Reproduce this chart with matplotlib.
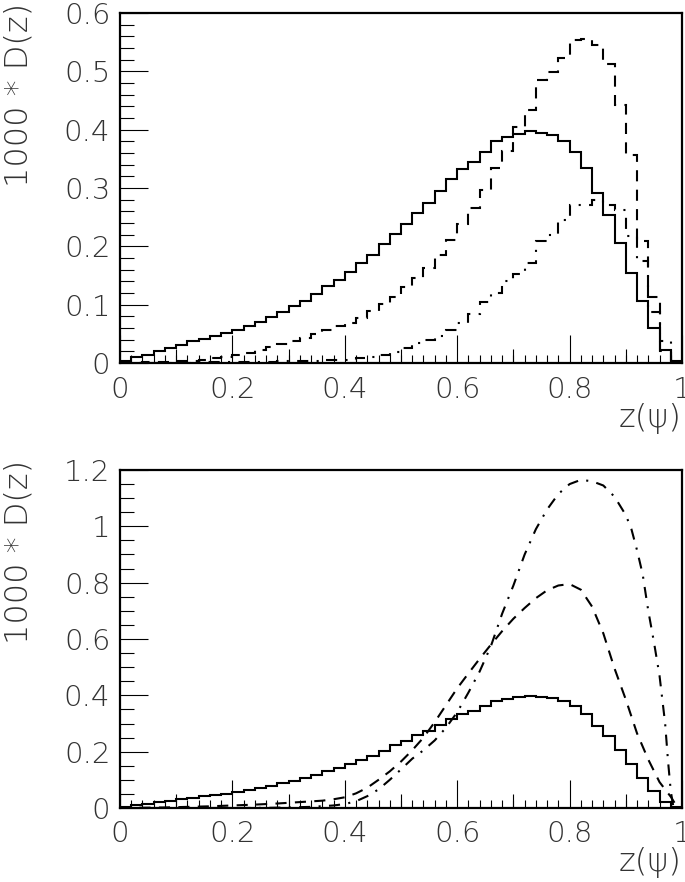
import numpy as np
import matplotlib
matplotlib.use("Agg")
import matplotlib.pyplot as plt
from matplotlib.ticker import MultipleLocator, FixedLocator, FuncFormatter, NullFormatter

# histogram contents, 50 bins on [0, 1]
SOLID_HIST = [0.004, 0.010, 0.014, 0.020, 0.026, 0.031, 0.037, 0.042, 0.047, 0.051,
              0.057, 0.064, 0.071, 0.079, 0.088, 0.097, 0.107, 0.118, 0.132, 0.143,
              0.156, 0.171, 0.186, 0.204, 0.222, 0.238, 0.258, 0.275, 0.295, 0.315,
              0.333, 0.345, 0.362, 0.380, 0.388, 0.393, 0.398, 0.395, 0.390, 0.381,
              0.361, 0.334, 0.292, 0.254, 0.205, 0.155, 0.106, 0.060, 0.022, 0.003]
DASHED_HIST = [0.0, 0.0, 0.001, 0.001, 0.002, 0.003, 0.004, 0.006, 0.008, 0.010,
               0.013, 0.017, 0.022, 0.027, 0.032, 0.038, 0.043, 0.049, 0.056, 0.063,
               0.069, 0.077, 0.089, 0.101, 0.113, 0.130, 0.146, 0.163, 0.186, 0.211,
               0.238, 0.266, 0.297, 0.335, 0.364, 0.405, 0.434, 0.485, 0.499, 0.522,
               0.554, 0.555, 0.545, 0.512, 0.443, 0.356, 0.209, 0.113, 0.020, 0.002]
DASHDOT_HIST = [0.0, 0.0, 0.0, 0.0, 0.0, 0.0, 0.0005, 0.001, 0.001, 0.001,
                0.001, 0.002, 0.002, 0.002, 0.003, 0.003, 0.004, 0.004, 0.005, 0.005,
                0.006, 0.008, 0.011, 0.014, 0.019, 0.026, 0.034, 0.040, 0.046, 0.056,
                0.068, 0.084, 0.105, 0.120, 0.140, 0.152, 0.172, 0.210, 0.220, 0.245,
                0.270, 0.270, 0.280, 0.270, 0.262, 0.218, 0.175, 0.088, 0.038, 0.004]

# smooth curves of the lower panel
DASHED_Z = [0.0, 0.04, 0.08, 0.12, 0.16, 0.20, 0.24, 0.28, 0.32, 0.36, 0.38, 0.40,
            0.42, 0.44, 0.46, 0.48, 0.50, 0.52, 0.54, 0.56, 0.58, 0.60, 0.62, 0.64,
            0.66, 0.68, 0.70, 0.72, 0.74, 0.76, 0.78, 0.80, 0.82, 0.84, 0.86, 0.88,
            0.90, 0.92, 0.94, 0.96, 0.98, 0.99, 1.0]
DASHED_CURVE = [0.0, 0.001, 0.002, 0.004, 0.006, 0.009, 0.012, 0.016, 0.021, 0.026, 0.031, 0.038,
                0.052, 0.072, 0.100, 0.130, 0.165, 0.205, 0.250, 0.305, 0.365, 0.425, 0.478, 0.530,
                0.580, 0.628, 0.672, 0.710, 0.745, 0.773, 0.790, 0.795, 0.775, 0.715, 0.620, 0.495,
                0.385, 0.265, 0.172, 0.092, 0.040, 0.008, 0.0]
DASHDOT_Z = [0.0, 0.20, 0.26, 0.30, 0.34, 0.38, 0.40, 0.42, 0.44, 0.46, 0.48, 0.50,
             0.52, 0.54, 0.56, 0.58, 0.60, 0.62, 0.64, 0.66, 0.68, 0.70, 0.72, 0.74,
             0.76, 0.78, 0.80, 0.82, 0.84, 0.86, 0.88, 0.90, 0.91, 0.92, 0.93, 0.94,
             0.95, 0.96, 0.97, 0.975, 0.98, 0.985]
DASHDOT_CURVE = [0.0, 0.0, 0.0005, 0.002, 0.004, 0.009, 0.014, 0.024, 0.042, 0.066, 0.100, 0.137,
                 0.175, 0.205, 0.240, 0.285, 0.340, 0.410, 0.485, 0.575, 0.690, 0.790, 0.900, 0.990,
                 1.060, 1.115, 1.150, 1.165, 1.160, 1.145, 1.105, 1.040, 0.990, 0.915, 0.830, 0.700,
                 0.590, 0.470, 0.300, 0.170, 0.060, 0.0]

EDGES = np.linspace(0.0, 1.0, len(SOLID_HIST) + 1)
YLABEL = "1000 * D(z)"
XLABEL = "z(ψ)"

plt.rcParams["font.family"] = ["DejaVu Sans"]
plt.rcParams["font.weight"] = "light"
plt.rcParams["lines.scale_dashes"] = False

DASH = (0, (8, 6))
DASHDOT = (0, (8, 6, 1.5, 6))
LW = 1.5
TXT = "#333333"


def style_axes(ax, ymax, ymajor, yminor):
    ax.set_xlim(0, 1)
    ax.set_ylim(0, ymax)
    for sp in ax.spines.values():
        sp.set_linewidth(1.6)
    ax.xaxis.set_major_locator(MultipleLocator(0.2))
    ax.xaxis.set_minor_locator(MultipleLocator(0.02))
    ax.yaxis.set_major_locator(MultipleLocator(ymajor))
    ax.yaxis.set_minor_locator(MultipleLocator(yminor))
    fmt = FuncFormatter(lambda v, p: f"{v:g}")
    ax.xaxis.set_major_formatter(fmt)
    ax.yaxis.set_major_formatter(fmt)
    ax.tick_params(axis="x", which="major", direction="in", length=20, width=0.8,
                   labelsize=21, pad=9, top=False, labelcolor=TXT)
    ax.tick_params(axis="x", which="minor", direction="in", length=5.5, width=0.8, top=False)
    ax.tick_params(axis="y", which="major", direction="in", length=20, width=0.8,
                   labelsize=21, pad=7, right=False, labelcolor=TXT)
    ax.tick_params(axis="y", which="minor", direction="in", length=10, width=0.8, right=False)
    # medium ticks at the odd tenths
    sec = ax.secondary_xaxis("bottom")
    sec.xaxis.set_major_locator(FixedLocator([0.1, 0.3, 0.5, 0.7, 0.9]))
    sec.xaxis.set_major_formatter(NullFormatter())
    sec.tick_params(axis="x", which="major", direction="in", length=10, width=0.8)
    sec.xaxis.set_minor_locator(FixedLocator([]))
    sec.spines["bottom"].set_visible(False)
    ax.text(-0.18, 1.03, YLABEL, rotation=90, ha="center", va="top",
            fontsize=23, color=TXT, transform=ax.transAxes)
    ax.text(1.0, -0.115, XLABEL, ha="right", va="top", fontsize=23, color=TXT,
            transform=ax.transAxes)


fig = plt.figure(figsize=(6.85, 8.82), dpi=100)
ax1 = fig.add_axes([120 / 685, 1 - 363 / 882, 562 / 685, 350 / 882])
ax2 = fig.add_axes([120 / 685, 1 - 808 / 882, 562 / 685, 338 / 882])

# upper panel: three histograms
ax1.stairs(SOLID_HIST, EDGES, color="black", lw=LW)
ax1.stairs(DASHED_HIST, EDGES, color="black", lw=LW, linestyle=DASH)
ax1.stairs(DASHDOT_HIST, EDGES, color="black", lw=LW, linestyle=DASHDOT)
style_axes(ax1, 0.6, 0.1, 0.02)

# lower panel: histogram plus two curves
ax2.stairs(SOLID_HIST, EDGES, color="black", lw=LW)
ax2.plot(DASHED_Z, DASHED_CURVE, color="black", lw=LW, linestyle=DASH)
ax2.plot(DASHDOT_Z, DASHDOT_CURVE, color="black", lw=LW, linestyle=DASHDOT)
style_axes(ax2, 1.2, 0.2, 0.05)

fig.savefig("out.png", dpi=100)
